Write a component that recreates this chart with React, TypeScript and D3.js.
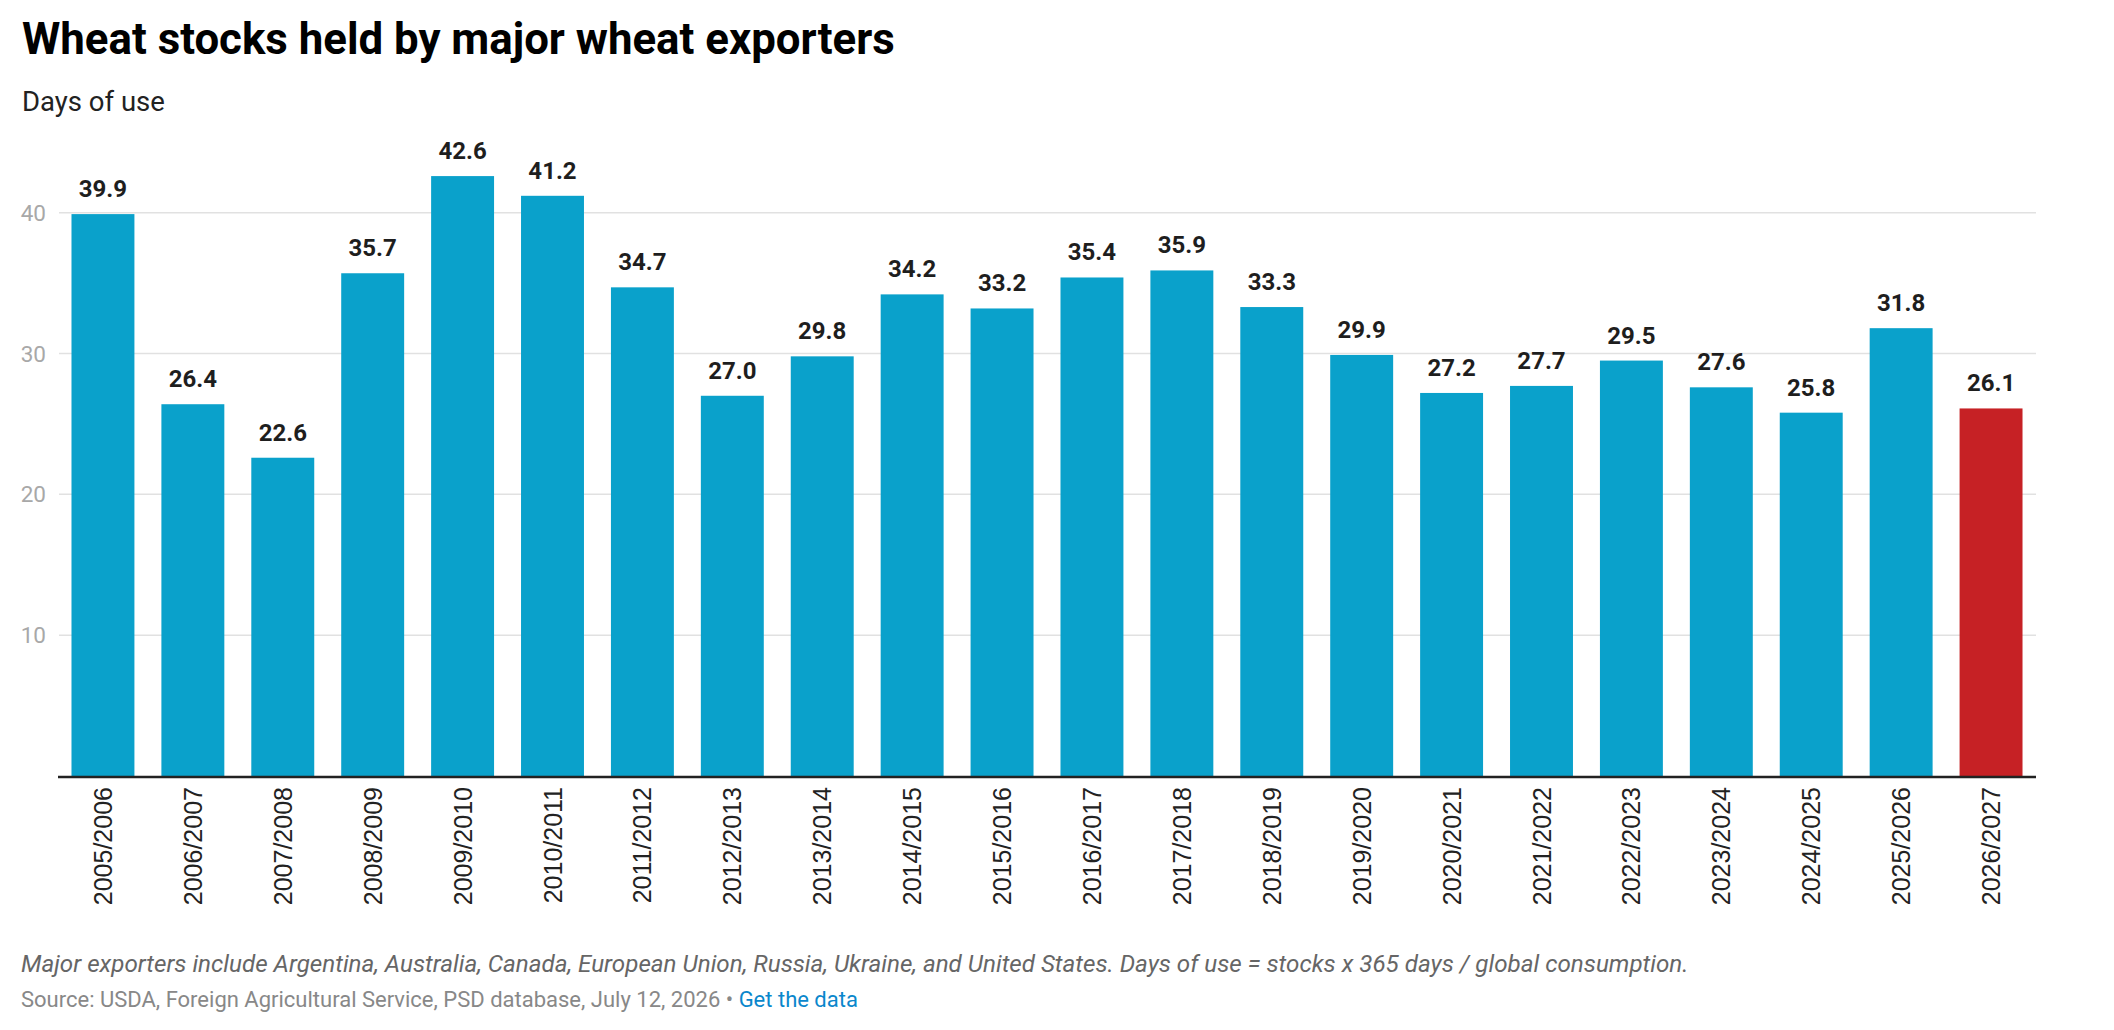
import React from "react";
import * as d3 from "d3";

const seasons = [
  "2005/2006", "2006/2007", "2007/2008", "2008/2009", "2009/2010", "2010/2011",
  "2011/2012", "2012/2013", "2013/2014", "2014/2015", "2015/2016", "2016/2017",
  "2017/2018", "2018/2019", "2019/2020", "2020/2021", "2021/2022", "2022/2023",
  "2023/2024", "2024/2025", "2025/2026", "2026/2027",
];
const daysOfUse = [
  39.9, 26.4, 22.6, 35.7, 42.6, 41.2, 34.7, 27.0, 29.8, 34.2, 33.2, 35.4,
  35.9, 33.3, 29.9, 27.2, 27.7, 29.5, 27.6, 25.8, 31.8, 26.1,
];
const highlighted = ["2026/2027"];
const yTicks = [10, 20, 30, 40];

const title = "Wheat stocks held by major wheat exporters";
const subtitle = "Days of use";
const note =
  "Major exporters include Argentina, Australia, Canada, European Union, Russia, Ukraine, and United States. Days of use = stocks x 365 days / global consumption.";
const source = "Source: USDA, Foreign Agricultural Service, PSD database, July 12, 2026 • ";
const sourceLink = "Get the data";

const W = 2114;
const H = 1030;
const left = 58;
const right = 2036;
const baseY = 776;
const top40 = 212.7;

export default function App() {
  const x = d3.scaleBand<string>().domain(seasons).range([left, right]).paddingInner(0.3).paddingOuter(0.15);
  const y = d3.scaleLinear().domain([0, 40]).range([baseY, top40]);
  const fmt = d3.format(".1f");

  return (
    <svg
      width={W}
      height={H}
      viewBox={`0 0 ${W} ${H}`}
      style={{ position: "fixed", left: 0, top: 0, background: "#fff" }}
    >
      <text x={22} y={54} fontFamily="Roboto" fontWeight={700} fontSize={43.8} fill="#000">
        {title}
      </text>
      <text x={22} y={111} fontFamily="Roboto" fontWeight={400} fontSize={27.5} fill="#222">
        {subtitle}
      </text>

      {yTicks.map((t) => (
        <g key={t}>
          <line x1={59} x2={right} y1={y(t)} y2={y(t)} stroke="#e1e1e1" strokeWidth={1.5} />
          <text
            x={46}
            y={y(t)}
            textAnchor="end"
            dominantBaseline="central"
            fontFamily="Roboto"
            fontSize={22.5}
            fill="#a8a8a8"
          >
            {t}
          </text>
        </g>
      ))}

      {seasons.map((s, i) => {
        const v = daysOfUse[i];
        const bx = x(s) as number;
        const cx = bx + x.bandwidth() / 2;
        return (
          <g key={s}>
            <rect
              x={bx}
              y={y(v)}
              width={x.bandwidth()}
              height={baseY - y(v)}
              fill={highlighted.includes(s) ? "#c62125" : "#0aa1cb"}
            />
            <text
              x={cx}
              y={y(v) - 17}
              textAnchor="middle"
              fontFamily="Roboto"
              fontWeight={700}
              fontSize={24}
              fill="#1e1e1e"
            >
              {fmt(v)}
            </text>
            <text
              transform={`translate(${cx},${baseY + 11}) rotate(-90)`}
              textAnchor="end"
              dominantBaseline="central"
              fontFamily="'Liberation Sans', Arial, sans-serif"
              fontSize={25}
              fill="#222"
            >
              {s}
            </text>
          </g>
        );
      })}

      <line x1={left} x2={right} y1={baseY + 1} y2={baseY + 1} stroke="#222" strokeWidth={2.5} />

      <text x={21} y={972} fontFamily="Roboto" fontStyle="italic" fontSize={24.2} fill="#666">
        {note}
      </text>
      <text x={21} y={1007} fontFamily="Roboto" fontSize={22} fill="#888">
        {source}
        <tspan fill="#0a87cc">{sourceLink}</tspan>
      </text>
    </svg>
  );
}
